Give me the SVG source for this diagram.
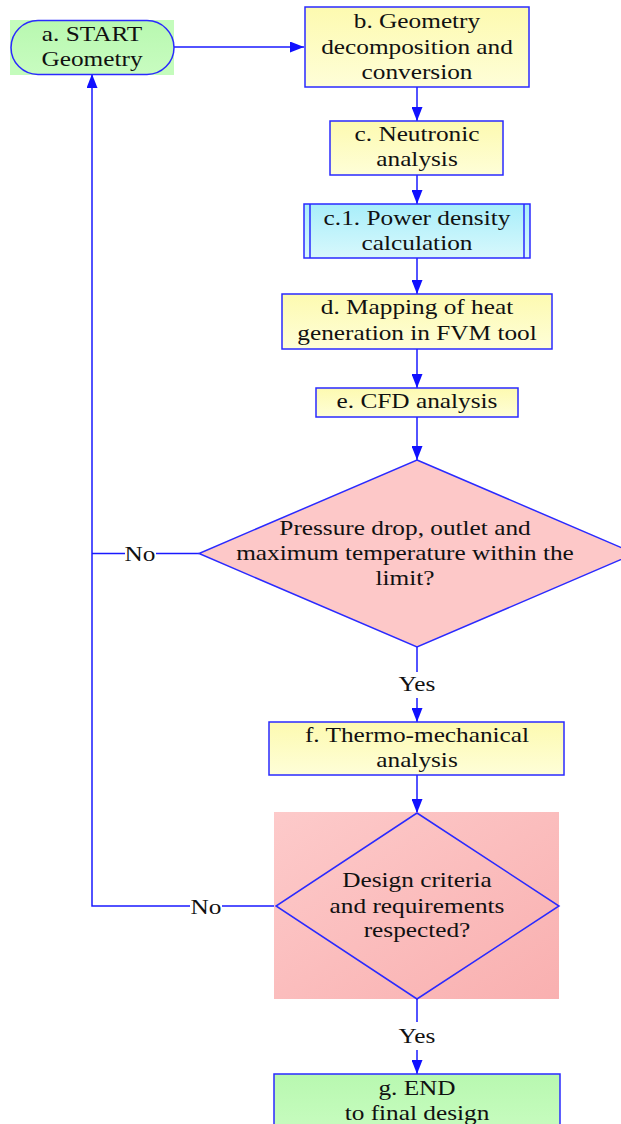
<svg xmlns="http://www.w3.org/2000/svg" width="621" height="1124" viewBox="0 0 621 1124">
<style>
.box{stroke:#2a2aff;stroke-width:1.5}
.yel{fill:url(#gy)}
.t{font-family:"Liberation Serif","Times New Roman",serif;font-size:22px;fill:#111;text-anchor:middle}
.c{fill:none;stroke:#1a1aff;stroke-width:1.5}
</style>
<defs>
<linearGradient id="gy" x1="0" y1="0" x2="0" y2="1"><stop offset="0" stop-color="#fdfab0"/><stop offset="1" stop-color="#fefed8"/></linearGradient>
<linearGradient id="gc" x1="0" y1="0" x2="0" y2="1"><stop offset="0" stop-color="#a8eefa"/><stop offset="1" stop-color="#d8f8fc"/></linearGradient>
<linearGradient id="gg" x1="0" y1="0" x2="0" y2="1"><stop offset="0" stop-color="#b8f8b0"/><stop offset="1" stop-color="#c8fcc0"/></linearGradient>
<linearGradient id="gp" x1="0" y1="0" x2="1" y2="1"><stop offset="0" stop-color="#fdcaca"/><stop offset="1" stop-color="#f9b0b0"/></linearGradient>
<marker id="ah" viewBox="0 0 14 11" refX="14" refY="5.5" markerWidth="14" markerHeight="11" markerUnits="userSpaceOnUse" orient="auto"><path d="M0,0 L14,5.5 L0,11 z" fill="#1010ff"/></marker>
</defs>
<g id="connectors">
<path class="c" d="M174,47 H304" marker-end="url(#ah)"/>
<path class="c" d="M417,87 V121" marker-end="url(#ah)"/>
<path class="c" d="M417,175 V204" marker-end="url(#ah)"/>
<path class="c" d="M417,258 V294" marker-end="url(#ah)"/>
<path class="c" d="M417,349 V388" marker-end="url(#ah)"/>
<path class="c" d="M417,417 V460" marker-end="url(#ah)"/>
<path class="c" d="M417,647 V672"/>
<path class="c" d="M417,698 V722" marker-end="url(#ah)"/>
<path class="c" d="M417,775 V813" marker-end="url(#ah)"/>
<path class="c" d="M417,999 V1022"/>
<path class="c" d="M417,1050 V1074" marker-end="url(#ah)"/>
<path class="c" d="M199,553.5 H156 M125,553.5 H92"/>
<path class="c" d="M276,906 H222 M190,906 H92 V74" marker-end="url(#ah)"/>
<g transform="translate(140,0) scale(1.15,1)"><text class="t" x="0" y="561">No</text></g>
<g transform="translate(206,0) scale(1.15,1)"><text class="t" x="0" y="914">No</text></g>
<g transform="translate(417,0) scale(1.15,1)"><text class="t" x="0" y="691">Yes</text></g>
<g transform="translate(417,0) scale(1.15,1)"><text class="t" x="0" y="1043">Yes</text></g>
</g>
<g id="a">
<rect x="10" y="20" width="164" height="55" fill="#c4fcbc"/>
<rect class="box" x="11" y="20.5" width="163" height="54" rx="27" fill="url(#gg)"/>
<g transform="translate(92,0) scale(1.15,1)"><text class="t" x="0" y="41">a. START</text><text class="t" x="0" y="66">Geometry</text></g>
</g>
<g id="b">
<rect class="box yel" x="305" y="7" width="224" height="80"/>
<g transform="translate(417,0) scale(1.15,1)"><text class="t" x="0" y="28">b. Geometry</text><text class="t" x="0" y="54">decomposition and</text><text class="t" x="0" y="79">conversion</text></g>
</g>
<g id="c">
<rect class="box yel" x="330" y="121" width="173" height="54"/>
<g transform="translate(417,0) scale(1.15,1)"><text class="t" x="0" y="141">c. Neutronic</text><text class="t" x="0" y="166">analysis</text></g>
</g>
<g id="c1">
<rect class="box" x="304" y="204" width="226" height="54" fill="url(#gc)"/>
<path class="box" d="M310,204 V258 M524,204 V258" fill="none"/>
<g transform="translate(417,0) scale(1.15,1)"><text class="t" x="0" y="225">c.1. Power density</text><text class="t" x="0" y="250">calculation</text></g>
</g>
<g id="d">
<rect class="box yel" x="282" y="294" width="270" height="55"/>
<g transform="translate(417,0) scale(1.15,1)"><text class="t" x="0" y="314">d. Mapping of heat</text><text class="t" x="0" y="340">generation in FVM tool</text></g>
</g>
<g id="e">
<rect class="box yel" x="316" y="388" width="202" height="29"/>
<g transform="translate(417,0) scale(1.15,1)"><text class="t" x="0" y="408">e. CFD analysis</text></g>
</g>
<g id="dec1">
<polygon class="box" points="417,460 635,553.5 417,647 199,553.5" fill="#fdc8c8"/>
<g transform="translate(405,0) scale(1.15,1)"><text class="t" x="0" y="535">Pressure drop, outlet and</text><text class="t" x="0" y="560">maximum temperature within the</text><text class="t" x="0" y="585">limit?</text></g>
</g>
<g id="f">
<rect class="box yel" x="269" y="722" width="295" height="53"/>
<g transform="translate(417,0) scale(1.15,1)"><text class="t" x="0" y="742">f. Thermo-mechanical</text><text class="t" x="0" y="767">analysis</text></g>
</g>
<g id="dec2">
<rect x="274" y="812" width="285" height="187" fill="url(#gp)"/>
<polygon class="box" points="417,813 559,906 417,999 276,906" fill="none"/>
<g transform="translate(417,0) scale(1.15,1)"><text class="t" x="0" y="887">Design criteria</text><text class="t" x="0" y="913">and requirements</text><text class="t" x="0" y="937">respected?</text></g>
</g>
<g id="g">
<rect class="box" x="274" y="1074" width="286" height="60" fill="url(#gg)"/>
<g transform="translate(417,0) scale(1.15,1)"><text class="t" x="0" y="1095">g. END</text><text class="t" x="0" y="1120">to final design</text></g>
</g>
</svg>
